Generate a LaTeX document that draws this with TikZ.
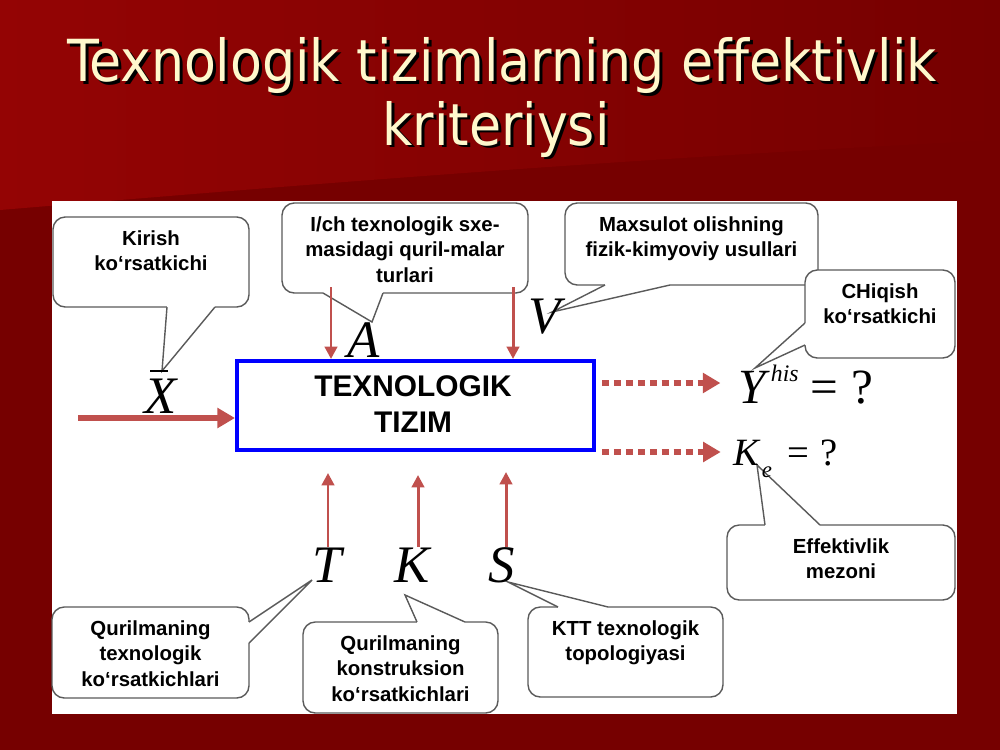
\documentclass[tikz,border=0pt]{standalone}
\usepackage{fontspec}
\usetikzlibrary{arrows.meta,fit}
\newfontfamily\headfont{DejaVu Sans Condensed}
\newfontfamily\boxfont{Liberation Sans}
\newfontfamily\letterfont{Liberation Serif}
\definecolor{bgtop}{RGB}{148,4,4}
\definecolor{bgdark}{RGB}{118,0,0}
\definecolor{arrred}{RGB}{192,80,77}
\definecolor{titlecol}{RGB}{255,248,204}
\definecolor{edgegray}{RGB}{90,90,90}
\newcommand{\wedgeto}[3]{%
  \fill[white] #1 -- #3 -- #2 -- cycle;
  \draw[white,line width=1.4pt] #1 -- #2;
  \draw[edgegray,line width=0.8pt] #1 -- #3 -- #2;}
\newcommand{\shadowed}[1]{\makebox[0pt][l]{\hspace{1.7pt}\raisebox{-1.7pt}{\color{black}#1}}#1}

\begin{document}
\begin{tikzpicture}[x=0.02cm,y=-0.02cm,
  callout/.style={draw=edgegray,line width=0.8pt,fill=white,rounded corners=7pt,inner sep=0pt},
  calltext/.style={font=\boxfont\bfseries\fontsize{11.6}{14.4}\selectfont,align=center,anchor=north,inner sep=0pt,yshift=-8pt},
  letter/.style={font=\letterfont\itshape\fontsize{30}{30}\selectfont,inner sep=0pt,anchor=base},
  headline/.style={font=\headfont\fontsize{33}{38}\selectfont,inner sep=0pt,anchor=base,text=titlecol},
  feed/.style={arrred,line width=1.7pt,-{Triangle[length=7pt,width=7pt]}},
  outflow/.style={arrred,line width=3.4pt,dash pattern=on 4pt off 2.8pt,-{Triangle[length=10pt,width=11pt]}}]
\useasboundingbox (0,0) rectangle (1000,750);
\fill[bgdark] (0,0) rectangle (1000,750);
\shade[left color=bgtop,right color=bgdark] (0,0) -- (1000,0) -- (1000,140) .. controls (600,160) and (300,185) .. (0,210) -- cycle;
\fill[white] (52,201) rectangle (957,714);

\node[headline] (title1) at (502,82) {\shadowed{Texnologik tizimlarning effektivlik}};
\node[headline] (title2) at (496,145) {\shadowed{kriteriysi}};

\node[callout,fit={(53,217) (249,307)}] (cX) {};
\wedgeto{(167,307)}{(215,307)}{(162,371)}
\node[calltext] (tX) at (cX.north) {Kirish\\ko‘rsatkichi};
\node[callout,fit={(282,203) (528,293)}] (cA) {};
\wedgeto{(323,293)}{(383,293)}{(372,322)}
\node[calltext] (tA) at (cA.north) {I/ch texnologik sxe-\\masidagi quril-malar\\turlari};
\node[callout,fit={(565,203) (818,285)}] (cV) {};
\wedgeto{(605,285)}{(670,285)}{(552,312)}
\node[calltext] (tV) at (cV.north) {Maxsulot olishning\\fizik-kimyoviy usullari};
\node[callout,fit={(805,270) (955,358)}] (cY) {};
\wedgeto{(805,323)}{(805,345)}{(755,368)}
\node[calltext] (tY) at (cY.north) {CHiqish\\ko‘rsatkichi};
\node[callout,fit={(727,525) (955,600)}] (cKe) {};
\wedgeto{(765,525)}{(820,525)}{(757,465)}
\node[calltext] (tKe) at (cKe.north) {Effektivlik\\mezoni};
\node[callout,fit={(52,607) (249,698)}] (cT) {};
\wedgeto{(249,622)}{(249,643)}{(312,580)}
\node[calltext] (tT) at (cT.north) {Qurilmaning\\texnologik\\ko‘rsatkichlari};
\node[callout,fit={(303,622) (498,713)}] (cK) {};
\wedgeto{(417,622)}{(465,622)}{(405,595)}
\node[calltext] (tK) at (cK.north) {Qurilmaning\\konstruksion\\ko‘rsatkichlari};
\node[callout,fit={(528,607) (723,697)}] (cS) {};
\wedgeto{(558,607)}{(608,607)}{(508,582)}
\node[calltext] (tS) at (cS.north) {KTT texnologik\\topologiyasi};

\node[draw=blue,line width=2.3pt,fit={(237,361) (594,450)},inner sep=0pt] (sys) {};
\node[font=\boxfont\bfseries\fontsize{17}{20.5}\selectfont,align=center] (sysname) at (413,404) {TEXNOLOGIK\\TIZIM};

\node[letter] (nX) at (161,413) {X};
\draw[line width=0.6pt] (150,371) -- (168,371);
\node[letter] (nA) at (364,357) {A};
\node[letter] (nV) at (545,333) {V};
\node[letter] (nT) at (327,582) {T};
\node[letter] (nK) at (412,582) {K};
\node[letter] (nS) at (502,582) {S};
\node[letter,anchor=base west,font=\letterfont\itshape\fontsize{28}{28}\selectfont] (nY) at (738,403) {Y\hspace{3pt}\raisebox{12pt}{\fontsize{13.5}{13.5}\selectfont his}\hspace{7pt}\upshape=\hspace{7pt}?};
\node[letter,anchor=base west,font=\letterfont\itshape\fontsize{22}{22}\selectfont] (nKe) at (733,465) {K\hspace{1.5pt}\raisebox{-7pt}{\fontsize{13}{13}\selectfont e}\hspace{9pt}\upshape=\hspace{6pt}?};

\coordinate (inX) at (78,418);
\draw[arrred,line width=3.6pt,-{Triangle[length=10pt,width=11pt]}] (inX) -- (sys.west |- inX);
\coordinate (a1) at (331,287);
\coordinate (a2) at (513,287);
\draw[feed] (a1) -- (a1 |- sys.north);
\draw[feed] (a2) -- (a2 |- sys.north);
\coordinate (u1) at (328,473);
\coordinate (u2) at (418,475);
\coordinate (u3) at (506,472);
\draw[feed] (u1 |- nT.north) -- (u1);
\draw[feed] (u2 |- nK.north) -- (u2);
\draw[feed] (u3 |- nS.north) -- (u3);
\coordinate (o1) at (600,383);
\coordinate (o2) at (600,452);
\draw[outflow,shorten <=3.4pt,shorten >=10pt] (sys.east |- o1) -- (nY.west |- o1);
\draw[outflow,shorten <=3.4pt,shorten >=7pt] (sys.east |- o2) -- (nKe.west |- o2);
\end{tikzpicture}
\end{document}
